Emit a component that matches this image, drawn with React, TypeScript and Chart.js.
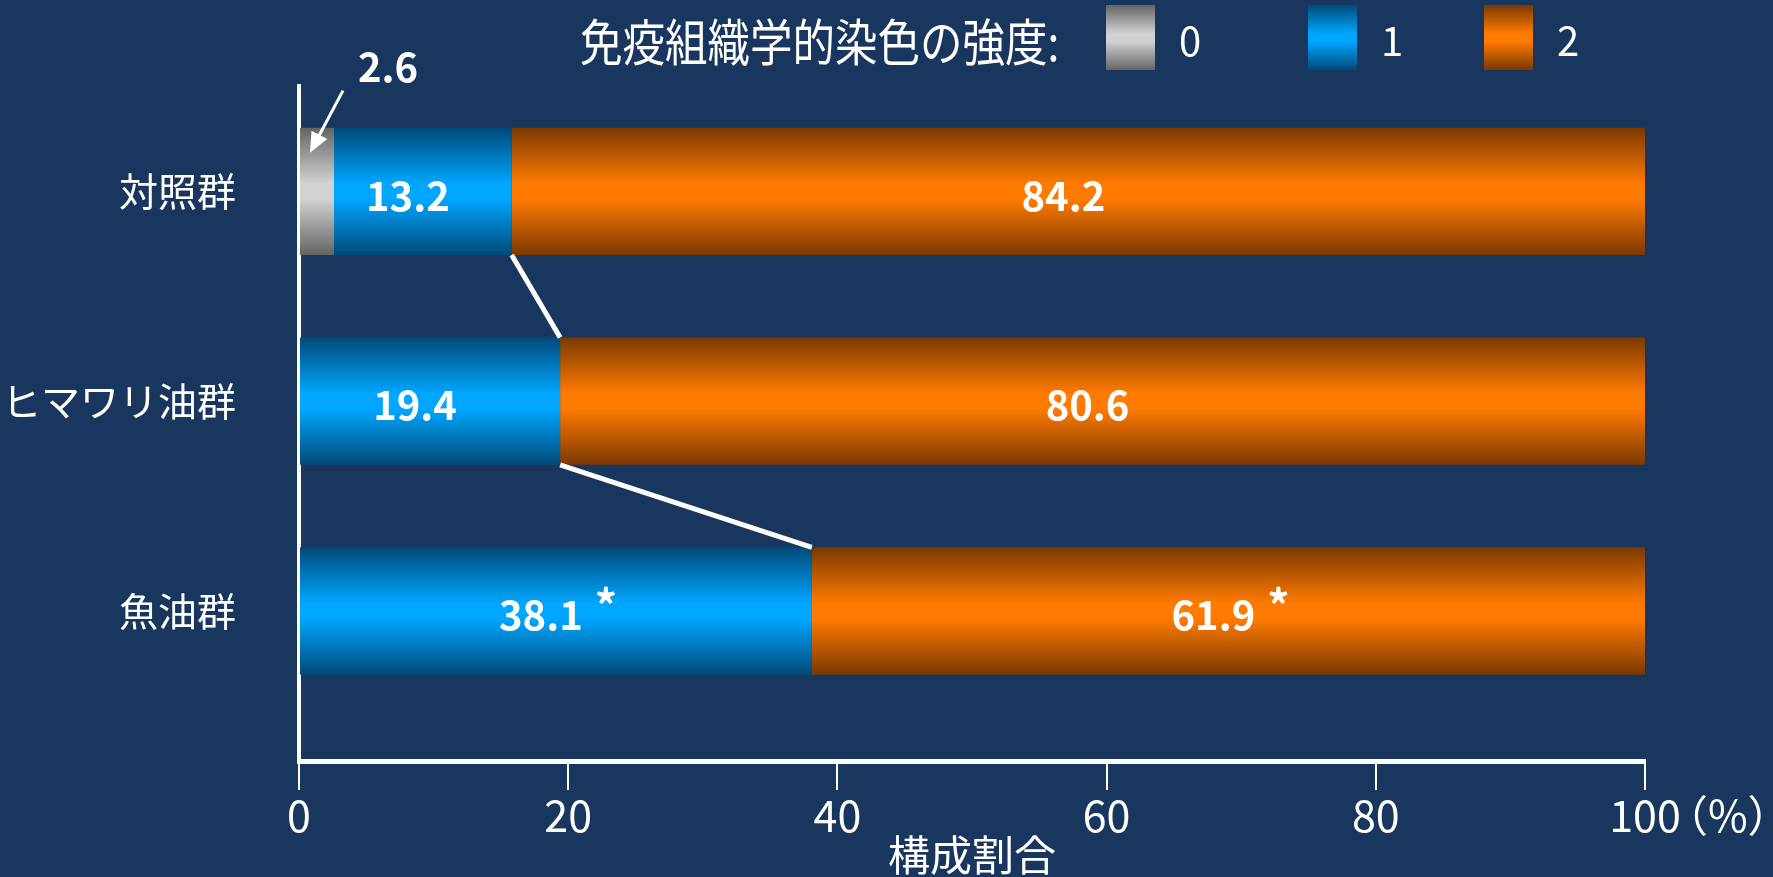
import React, { useEffect, useRef } from 'react';
import { Chart, registerables } from 'chart.js';

Chart.register(...registerables);

// ---- data ----
const categories = ['対照群', 'ヒマワリ油群', '魚油群'];
const intensity0 = [2.6, 0, 0];
const intensity1 = [13.2, 19.4, 38.1];
const intensity2 = [84.2, 80.6, 61.9];
const significant1 = [false, false, true];
const significant2 = [false, false, true];
const seriesNames = ['0', '1', '2'];
const xTicks = [0, 20, 40, 60, 80, 100];
const legendTitle = '免疫組織学的染色の強度:';
const xTitle = '構成割合';
const unitLabel = '（%）';

// ---- styles ----
const BG = '#18365E';
const CJK = "'Noto Sans CJK JP', 'Noto Sans', sans-serif";
const palettes: string[][] = [
  ['#646464', '#d2d2d2'],
  ['#004a78', '#00a6ff'],
  ['#7a3900', '#ff7a00'],
];
const BAR_PCT = 0.607;

function makeGradient(ctx: CanvasRenderingContext2D, top: number, bottom: number, pal: string[]) {
  const g = ctx.createLinearGradient(0, top, 0, bottom);
  g.addColorStop(0, pal[0]);
  g.addColorStop(0.44, pal[1]);
  g.addColorStop(0.56, pal[1]);
  g.addColorStop(1, pal[0]);
  return g;
}

function gradientFor(k: number) {
  return (c: any) => {
    const chart = c.chart;
    const y = chart.scales && chart.scales.y;
    if (!y || c.type !== 'data' || !chart.chartArea) return palettes[k][1];
    const center = y.getPixelForValue(c.dataIndex);
    const spacing = Math.abs(y.getPixelForValue(1) - y.getPixelForValue(0));
    const half = (spacing * BAR_PCT) / 2;
    return makeGradient(chart.ctx, center - half, center + half, palettes[k]);
  };
}

const bgPlugin = {
  id: 'bg',
  beforeDraw(chart: any) {
    const ctx = chart.ctx;
    ctx.save();
    ctx.fillStyle = BG;
    ctx.fillRect(0, 0, chart.width, chart.height);
    ctx.restore();
  },
};

const annotPlugin = {
  id: 'annot',
  afterDatasetsDraw(chart: any) {
    const ctx: CanvasRenderingContext2D = chart.ctx;
    ctx.save();
    // connector lines between ends of intensity-1 segments
    const m1 = chart.getDatasetMeta(1);
    ctx.strokeStyle = '#ffffff';
    ctx.lineWidth = 5;
    for (let i = 0; i < m1.data.length - 1; i++) {
      const a = m1.data[i];
      const b = m1.data[i + 1];
      ctx.beginPath();
      ctx.moveTo(a.x, a.y + a.height / 2);
      ctx.lineTo(b.x, b.y - b.height / 2);
      ctx.stroke();
    }

    // value labels
    ctx.fillStyle = '#ffffff';
    ctx.textBaseline = 'middle';
    const series = [intensity0, intensity1, intensity2];
    const sigs = [null, significant1, significant2];
    series.forEach((vals, d) => {
      const meta = chart.getDatasetMeta(d);
      meta.data.forEach((el: any, i: number) => {
        const v = vals[i];
        if (!v) return;
        const w = Math.abs(el.x - el.base);
        const text = v.toFixed(1);
        ctx.font = `bold 40px ${CJK}`;
        if (w < 70) {
          // callout with arrow
          const tx = Math.min(el.x, el.base) + 10;
          const ty = el.y - el.height / 2 + 25;
          const sx = tx + 33;
          const sy = ty - 62;
          ctx.lineWidth = 3;
          ctx.beginPath();
          ctx.moveTo(sx, sy);
          const ang = Math.atan2(ty - sy, tx - sx);
          ctx.lineTo(tx - 14 * Math.cos(ang), ty - 14 * Math.sin(ang));
          ctx.stroke();
          const len = 22;
          ctx.beginPath();
          ctx.moveTo(tx, ty);
          ctx.lineTo(tx - len * Math.cos(ang - 0.42), ty - len * Math.sin(ang - 0.42));
          ctx.lineTo(tx - len * Math.cos(ang + 0.42), ty - len * Math.sin(ang + 0.42));
          ctx.closePath();
          ctx.fill();
          ctx.textAlign = 'left';
          ctx.fillText(text, sx + 15, sy - 24);
        } else {
          const cx = (el.x + el.base) / 2 - 15;
          const cy = el.y + 4;
          ctx.textAlign = 'center';
          ctx.fillText(text, cx, cy);
          const sg = sigs[d];
          if (sg && sg[i]) {
            const tw = ctx.measureText(text).width;
            ctx.font = `bold 44px ${CJK}`;
            ctx.textAlign = 'left';
            ctx.fillText('*', cx + tw / 2 + 12, cy - 10);
          }
        }
      });
    });
    ctx.restore();
  },
  afterDraw(chart: any) {
    const ctx: CanvasRenderingContext2D = chart.ctx;
    ctx.save();
    ctx.fillStyle = '#ffffff';
    ctx.textBaseline = 'middle';
    // unit label next to last tick
    const xs = chart.scales.x;
    ctx.font = `43px ${CJK}`;
    ctx.textAlign = 'left';
    ctx.fillText(unitLabel, xs.getPixelForValue(xTicks[xTicks.length - 1]) + 20, xs.top + 29 + 26);

    // legend
    ctx.save();
    ctx.translate(580, 42);
    ctx.scale(0.85, 1);
    ctx.font = `50px ${CJK}`;
    ctx.fillText(legendTitle, 0, 0);
    ctx.restore();
    const boxX = [1106, 1308, 1484];
    seriesNames.forEach((name, k) => {
      const x = boxX[k];
      ctx.fillStyle = makeGradient(ctx, 5, 70, palettes[k]);
      ctx.fillRect(x, 5, 49, 65);
      ctx.fillStyle = '#ffffff';
      ctx.font = `40px ${CJK}`;
      ctx.fillText(name, x + 73, 41);
    });
    ctx.restore();
  },
};

export default function App() {
  const ref = useRef<HTMLCanvasElement | null>(null);
  useEffect(() => {
    document.body.style.margin = '0';
    document.body.style.background = BG;
    const canvas = ref.current;
    if (!canvas) return;
    const toPts = (vals: number[]) => vals.map((v, i) => ({ x: v, y: i }));
    const chart = new Chart(canvas, {
      type: 'bar',
      data: {
        datasets: [
          { label: seriesNames[0], data: toPts(intensity0), backgroundColor: gradientFor(0) },
          { label: seriesNames[1], data: toPts(intensity1), backgroundColor: gradientFor(1) },
          { label: seriesNames[2], data: toPts(intensity2), backgroundColor: gradientFor(2) },
        ] as any,
      },
      options: {
        indexAxis: 'y',
        responsive: false,
        animation: false,
        devicePixelRatio: 1,
        categoryPercentage: 1,
        barPercentage: BAR_PCT,
        layout: { padding: { top: 82, right: 128, left: 0, bottom: 0 } },
        plugins: {
          legend: { display: false },
          tooltip: { enabled: false },
          title: { display: false },
        },
        scales: {
          x: {
            type: 'linear',
            position: 'bottom',
            stacked: true,
            offset: false,
            min: 0,
            max: 100,
            afterBuildTicks: (a: any) => {
              a.ticks = xTicks.map((v) => ({ value: v }));
            },
            afterFit: (s: any) => {
              s.height = 116;
            },
            ticks: {
              color: '#ffffff',
              font: { family: CJK, size: 43 },
              padding: 0,
              maxRotation: 0,
              autoSkip: false,
            },
            grid: { offset: false, drawOnChartArea: false, drawTicks: true, tickLength: 29, color: '#ffffff', lineWidth: 2 },
            border: { display: true, color: '#ffffff', width: 5 },
            title: {
              display: true,
              text: xTitle,
              color: '#ffffff',
              font: { family: CJK, size: 42, lineHeight: 1 },
              padding: { top: 2, bottom: 1 },
            },
          },
          y: {
            type: 'linear',
            stacked: true,
            reverse: true,
            offset: false,
            min: -0.5,
            max: 2.715,
            afterBuildTicks: (a: any) => {
              a.ticks = categories.map((_, i) => ({ value: i }));
            },
            afterFit: (s: any) => {
              s.width = 299;
            },
            ticks: {
              callback: (v: any) => categories[v as number] ?? '',
              color: '#ffffff',
              font: { family: CJK, size: 39 },
              padding: 63,
              autoSkip: false,
            },
            grid: { offset: false, display: false, drawTicks: false },
            border: { display: true, color: '#ffffff', width: 4 },
          },
        } as any,
      } as any,
      plugins: [bgPlugin, annotPlugin],
    });
    return () => chart.destroy();
  }, []);
  return (
    <div style={{ width: 1773, height: 877, background: BG }}>
      <canvas ref={ref} width={1773} height={877} style={{ display: 'block' }} />
    </div>
  );
}
